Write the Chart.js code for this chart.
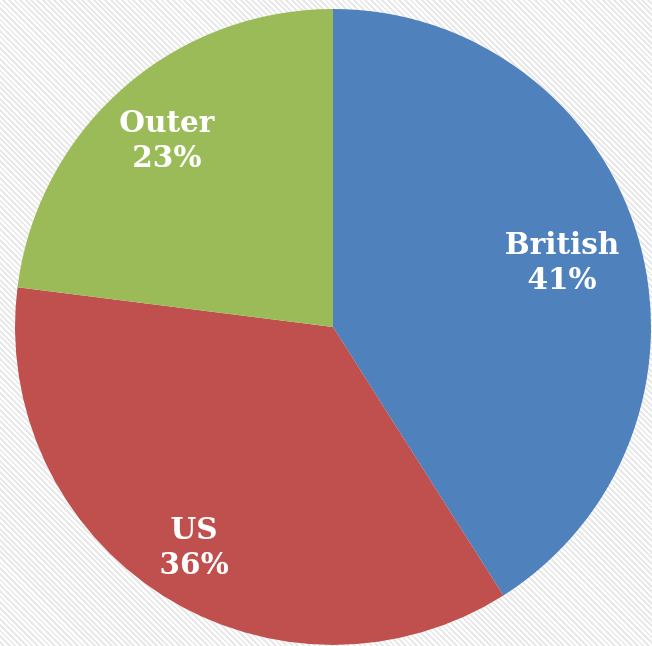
<!DOCTYPE html>
<html>
<head>
<meta charset="utf-8">
<script src="https://cdn.jsdelivr.net/npm/chart.js@4/dist/chart.umd.min.js"></script>
<style>
  html, body { margin: 0; padding: 0; }
  body {
    width: 652px; height: 646px; overflow: hidden;
    background: repeating-linear-gradient(45deg, #ffffff 0px, #ffffff 2px, #e9e9e9 2px, #e9e9e9 4px);
  }
  #wrap { position: relative; width: 652px; height: 646px; }
</style>
</head>
<body>
<div id="wrap"><canvas id="c" width="652" height="646"></canvas></div>
<script>
const categories = ["British", "US", "Outer"];
const values = [41, 36, 23];
const colors = ["#4F81BD", "#C0504D", "#9BBB59"];
const labelRadius = [0.75, 0.815, 0.79];

const labelPlugin = {
  id: 'sliceLabels',
  afterDatasetsDraw(chart) {
    const ctx = chart.ctx;
    const meta = chart.getDatasetMeta(0);
    const total = values.reduce((a, b) => a + b, 0);
    ctx.save();
    ctx.fillStyle = '#ffffff';
    ctx.font = 'bold 29.5px "DejaVu Serif"';
    ctx.textAlign = 'center';
    ctx.textBaseline = 'alphabetic';
    meta.data.forEach((arc, i) => {
      const p = arc.getProps(['x', 'y', 'startAngle', 'endAngle', 'outerRadius'], true);
      const mid = (p.startAngle + p.endAngle) / 2;
      const r = p.outerRadius * labelRadius[i];
      const x = p.x + Math.cos(mid) * r;
      const y = p.y + Math.sin(mid) * r;
      const pct = Math.round(values[i] / total * 100) + '%';
      ctx.fillText(categories[i], x, y - 6.5);
      ctx.fillText(pct, x, y + 28.5);
    });
    ctx.restore();
  }
};

new Chart(document.getElementById('c'), {
  type: 'pie',
  data: {
    labels: categories,
    datasets: [{
      data: values,
      backgroundColor: colors,
      borderWidth: 0
    }]
  },
  options: {
    responsive: false,
    animation: false,
    layout: { padding: { left: 14, right: 0, top: 9, bottom: 1 } },
    plugins: {
      legend: { display: false },
      tooltip: { enabled: false }
    }
  },
  plugins: [labelPlugin]
});
</script>
</body>
</html>
